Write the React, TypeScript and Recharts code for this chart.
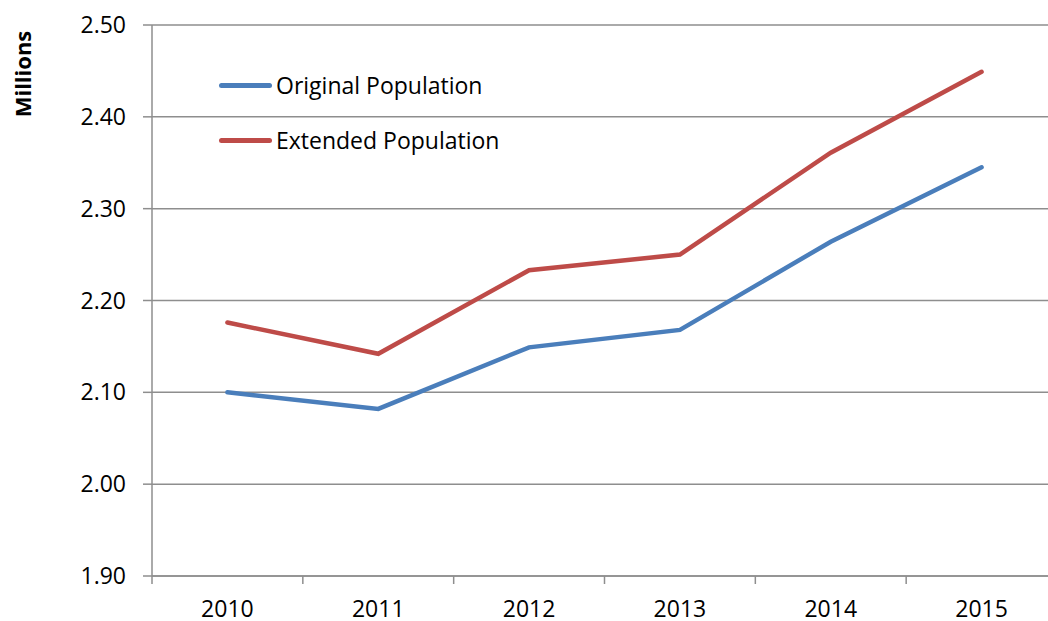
import React from "react";
import { LineChart, Line, XAxis, YAxis, CartesianGrid, Label } from "recharts";

const years = ["2010", "2011", "2012", "2013", "2014", "2015"];
const originalPopulation = [2.1, 2.082, 2.149, 2.168, 2.264, 2.345];
const extendedPopulation = [2.176, 2.142, 2.233, 2.25, 2.361, 2.449];
const yTicks = [1.9, 2.0, 2.1, 2.2, 2.3, 2.4, 2.5];
const xBoundaryTicks = [0, 1, 2, 3, 4, 5, 6];
const seriesNames = ["Original Population", "Extended Population"];
const seriesColors = ["#4A7EBB", "#BE4B48"];

const data = years.map((y, i) => ({
  x: i + 0.5,
  year: y,
  original: originalPopulation[i],
  extended: extendedPopulation[i],
}));

const FONT = "'Open Sans', sans-serif";
const FS = 23;
const CHART_W = 1100;
const MARGIN = { top: 25, right: 43, left: 0, bottom: 0 };
const Y_W = 152;
const BAND_HALF = (CHART_W - MARGIN.right - Y_W) / 6 / 2;

const XTick = (props: any) => {
  const { x, y, payload } = props;
  const label = years[payload.value];
  if (!label) return null;
  return (
    <text x={x + BAND_HALF} y={y} dy="0.72em" textAnchor="middle" fill="#000" fontSize={FS} fontFamily={FONT}>
      {label}
    </text>
  );
};

const LegendBox = () => (
  <div style={{ position: "absolute", left: 219, top: 69, fontFamily: FONT, fontSize: FS, color: "#000" }}>
    {seriesNames.map((name, i) => (
      <div key={i} style={{ display: "flex", alignItems: "center", height: 32, marginBottom: i === 0 ? 23 : 0 }}>
        <div style={{ width: 53, height: 5, borderRadius: 3, background: seriesColors[i], marginRight: 4 }} />
        <span style={{ whiteSpace: "nowrap" }}>{name}</span>
      </div>
    ))}
  </div>
);

export default function App() {
  return (
    <div style={{ position: "absolute", left: 0, top: 0, width: 1048, height: 621, overflow: "hidden", background: "#fff" }}>
      <LineChart width={CHART_W} height={621} data={data} margin={MARGIN}>
        <CartesianGrid vertical={false} stroke="#8E8E8E" strokeWidth={1.5} />
        <XAxis
          dataKey="x"
          type="number"
          domain={[0, 6]}
          ticks={xBoundaryTicks}
          interval={0}
          height={45}
          tick={<XTick />}
          tickSize={8}
          tickMargin={16}
          axisLine={{ stroke: "#8E8E8E", strokeWidth: 1.5 }}
          tickLine={{ stroke: "#8E8E8E", strokeWidth: 1.5 }}
        />
        <YAxis
          type="number"
          domain={[1.9, 2.5]}
          ticks={yTicks}
          interval={0}
          width={Y_W}
          tickFormatter={(v: number) => v.toFixed(2)}
          tick={{ fill: "#000", fontSize: FS, fontFamily: FONT }}
          tickSize={9}
          tickMargin={17}
          axisLine={{ stroke: "#8E8E8E", strokeWidth: 1.5 }}
          tickLine={{ stroke: "#8E8E8E", strokeWidth: 1.5 }}
        >
          <Label
            content={() => (
              <text
                x={22}
                y={74}
                transform="rotate(-90 22 74)"
                textAnchor="middle"
                dominantBaseline="central"
                fontFamily={FONT}
                fontWeight="bold"
                fontSize={22}
                fill="#000"
              >
                Millions
              </text>
            )}
          />
        </YAxis>
        <Line
          type="linear"
          dataKey="original"
          name={seriesNames[0]}
          stroke={seriesColors[0]}
          strokeWidth={4.5}
          dot={false}
          strokeLinecap="round"
          isAnimationActive={false}
        />
        <Line
          type="linear"
          dataKey="extended"
          name={seriesNames[1]}
          stroke={seriesColors[1]}
          strokeWidth={4.5}
          dot={false}
          strokeLinecap="round"
          isAnimationActive={false}
        />
      </LineChart>
      <LegendBox />
    </div>
  );
}
